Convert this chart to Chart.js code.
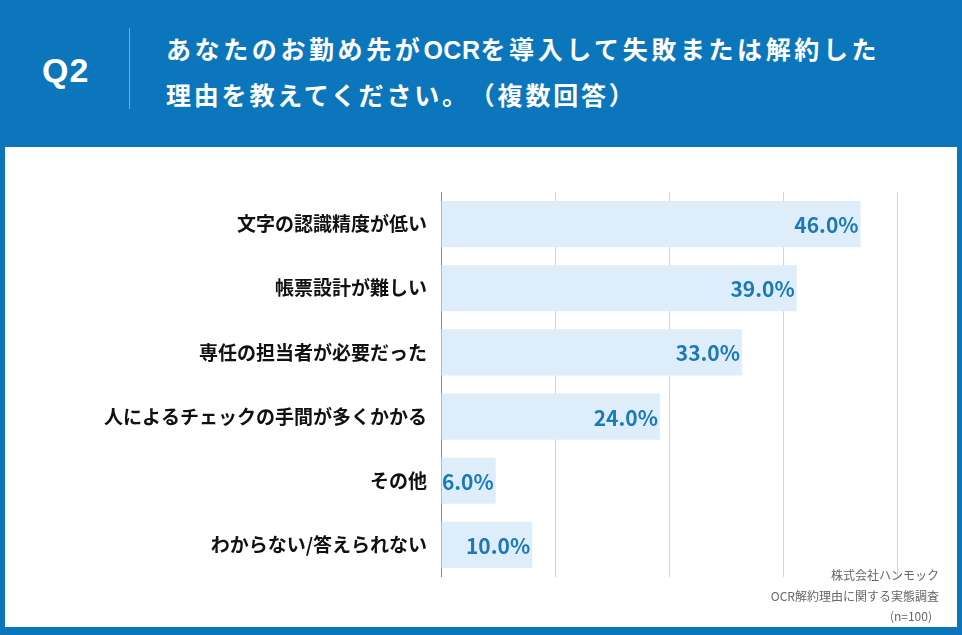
<!DOCTYPE html>
<html lang="ja">
<head>
<meta charset="utf-8">
<script src="https://cdn.jsdelivr.net/npm/chart.js@4.4.1/dist/chart.umd.min.js"></script>
<style>
  html, body { margin: 0; padding: 0; }
  body {
    width: 962px; height: 635px; position: relative; overflow: hidden;
    background: #0b76bc;
    font-family: "Noto Sans CJK JP", "Noto Sans", sans-serif;
  }
  #q { position: absolute; left: 42px; top: 48px; font-family: "Liberation Sans", Arial, sans-serif; font-size: 34px; font-weight: 700; color: #fff; line-height: 44px; letter-spacing: 1px; }
  #divider { position: absolute; left: 129px; top: 28px; width: 1px; height: 81px; background: #6aaede; }
  #title { position: absolute; left: 166px; top: 26px; font-size: 25px; font-weight: 700; color: #fff; line-height: 44px; letter-spacing: 2.8px; text-spacing-trim: space-all; white-space: nowrap; }
  #title .l1 { letter-spacing: 3.6px; }
  #title .ocr { font-family: "Liberation Sans", Arial, sans-serif; letter-spacing: 0.5px; }
  #panel { position: absolute; left: 5px; top: 147px; width: 952px; height: 480px; background: #fff; }
  #chart { position: absolute; left: 0; top: 0; }
  #source { position: absolute; right: 18px; top: 418px; font-size: 12px; color: #666; line-height: 20.5px; text-align: right; }
</style>
</head>
<body>
<div id="q">Q2</div>
<div id="divider"></div>
<div id="title"><span class="l1">あなたのお勤め先が<span class="ocr">OCR</span>を導入して失敗または解約した</span><br>理由を教えてください。（複数回答）</div>
<div id="panel">
  <canvas id="chart" width="952" height="480"></canvas>
  <div id="source">株式会社ハンモック<br>OCR解約理由に関する実態調査<br><span style="margin-right:7px">(n=100)</span></div>
</div>
<script>
// Answers and share of respondents (%)
const reasons = [
  '文字の認識精度が低い',
  '帳票設計が難しい',
  '専任の担当者が必要だった',
  '人によるチェックの手間が多くかかる',
  'その他',
  'わからない/答えられない'
];
const shares = [46.0, 39.0, 33.0, 24.0, 6.0, 10.0];
const axisMax = 50;
const axisStep = 12.5;

// Draw "46.0%" style labels at the inner end of each bar
const valueLabels = {
  id: 'valueLabels',
  afterDatasetsDraw(chart) {
    const ctx = chart.ctx;
    const meta = chart.getDatasetMeta(0);
    ctx.save();
    ctx.font = '700 21px "Noto Sans CJK JP", sans-serif';
    ctx.fillStyle = '#1b79b9';
    ctx.textAlign = 'right';
    ctx.textBaseline = 'middle';
    meta.data.forEach((bar, i) => {
      const v = chart.data.datasets[0].data[i];
      ctx.fillText(v.toFixed(1) + '%', bar.x - 2, bar.y + 1);
    });
    ctx.restore();
  }
};

new Chart(document.getElementById('chart'), {
  type: 'bar',
  data: {
    labels: reasons,
    datasets: [{
      data: shares,
      backgroundColor: '#ddeefa',
      borderWidth: 0,
      barPercentage: 0.9,
      categoryPercentage: 0.8
    }]
  },
  options: {
    indexAxis: 'y',
    responsive: false,
    animation: false,
    layout: { padding: { left: 0, right: 60, top: 45, bottom: 50 } },
    plugins: {
      legend: { display: false },
      tooltip: { enabled: false }
    },
    scales: {
      x: {
        min: 0,
        max: axisMax,
        ticks: { display: false, stepSize: axisStep },
        grid: {
          drawTicks: false,
          color: function(context) {
            return context.tick && context.tick.value === 0 ? '#8a8a8a' : '#d2d2d2';
          }
        },
        border: { display: false },
        afterFit: function(scale) { scale.height = 0; }
      },
      y: {
        ticks: {
          color: '#111',
          padding: 14,
          font: { family: '"Noto Sans CJK JP", sans-serif', size: 19, weight: '700' }
        },
        grid: { display: false, drawTicks: false },
        border: { display: false },
        afterFit: function(scale) { scale.width = 436; }
      }
    }
  },
  plugins: [valueLabels]
});
</script>
</body>
</html>
